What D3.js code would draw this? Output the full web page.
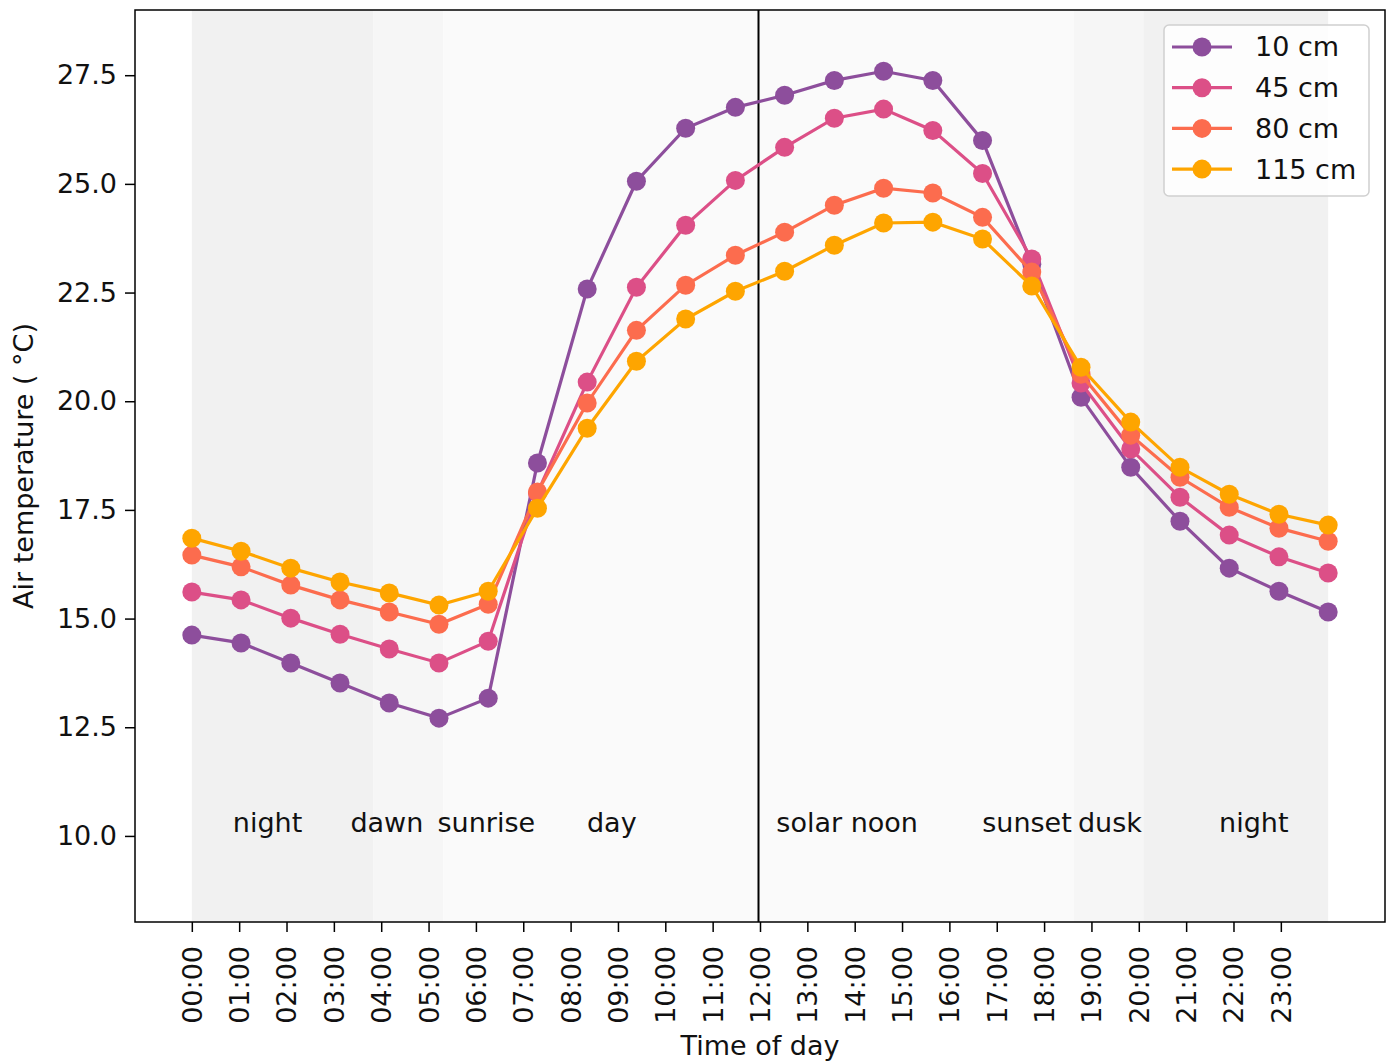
<!DOCTYPE html>
<html>
<head>
<meta charset="utf-8">
<script src="https://cdn.jsdelivr.net/npm/d3@7.9.0/dist/d3.min.js"></script>
<style>
  html, body { margin: 0; padding: 0; background: #fff; }
  svg { display: block; font-family: "DejaVu Sans", sans-serif; }
</style>
</head>
<body>
<svg id="chart" width="1391" height="1061"></svg>
<script>
// sample times (hours) — 24 samples spread over the day
const hours = [0, 1.04, 2.09, 3.13, 4.17, 5.22, 6.26, 7.30, 8.35, 9.39, 10.43, 11.48,
               12.52, 13.57, 14.61, 15.65, 16.70, 17.74, 18.78, 19.83, 20.87, 21.91, 22.96, 24.0];

const seriesNames = ['10 cm', '45 cm', '80 cm', '115 cm'];
const seriesColors = ['#8d4e9c', '#dc4f87', '#fc6c4e', '#fea500'];

const temp10  = [14.62, 14.44, 13.98, 13.52, 13.06, 12.71, 13.17, 18.58, 22.58, 25.06, 26.28, 26.76,
                 27.04, 27.38, 27.59, 27.38, 26.00, 23.15, 20.09, 18.48, 17.24, 16.16, 15.63, 15.15];
const temp45  = [15.61, 15.43, 15.01, 14.64, 14.30, 13.98, 14.48, 17.89, 20.44, 22.62, 24.05, 25.08,
                 25.84, 26.51, 26.72, 26.23, 25.24, 23.27, 20.42, 18.90, 17.79, 16.92, 16.42, 16.05];
const temp80  = [16.46, 16.19, 15.77, 15.43, 15.15, 14.87, 15.33, 17.91, 19.96, 21.63, 22.67, 23.36,
                 23.89, 24.51, 24.90, 24.79, 24.23, 22.97, 20.62, 19.22, 18.25, 17.56, 17.08, 16.78];
const temp115 = [16.85, 16.55, 16.16, 15.84, 15.59, 15.31, 15.63, 17.54, 19.38, 20.92, 21.89, 22.53,
                 22.99, 23.59, 24.10, 24.12, 23.73, 22.65, 20.78, 19.52, 18.48, 17.86, 17.40, 17.15];
const seriesValues = [temp10, temp45, temp80, temp115];

// background phases [start, end] in hours
const phaseStart = [0, 3.83, 5.31, 18.63, 20.10];
const phaseEnd   = [3.83, 5.31, 18.63, 20.10, 24.0];
const phaseFill  = ['#f1f1f1', '#f6f6f6', '#fafafa', '#f6f6f6', '#f1f1f1'];

// phase labels
const labelText = ['night', 'dawn', 'sunrise', 'day', 'solar noon', 'sunset', 'dusk', 'night'];
const labelHour = [1.60, 4.12, 6.22, 8.87, 13.84, 17.64, 19.39, 22.43];

const xTicks = d3.range(0, 24);
const yTicks = [10.0, 12.5, 15.0, 17.5, 20.0, 22.5, 25.0, 27.5];

const plotL = 135, plotR = 1385, plotT = 10, plotB = 922;
const fs = 27;

const svg = d3.select('#chart');
const x = d3.scaleLinear().domain([-1.2, 25.2]).range([plotL, plotR]);
const y = d3.scaleLinear().domain([8.02, 29.0]).range([plotB, plotT]);

// shaded phases
svg.append('g').selectAll('rect')
  .data(phaseStart)
  .enter().append('rect')
    .attr('x', (d, i) => x(d))
    .attr('width', (d, i) => x(phaseEnd[i]) - x(d))
    .attr('y', plotT)
    .attr('height', plotB - plotT)
    .attr('fill', (d, i) => phaseFill[i]);

// phase labels
svg.append('g').selectAll('text')
  .data(labelText)
  .enter().append('text')
    .attr('x', (d, i) => x(labelHour[i]))
    .attr('y', y(10.08))
    .attr('text-anchor', 'middle')
    .attr('font-size', fs)
    .attr('fill', '#111')
    .text(d => d);

// solar noon line
svg.append('line')
  .attr('x1', x(12) - 1.5).attr('x2', x(12) - 1.5)
  .attr('y1', plotT).attr('y2', plotB)
  .attr('stroke', '#000').attr('stroke-width', 2);

// series
const line = d3.line().x((d, i) => x(hours[i])).y(d => y(d));
seriesValues.forEach((vals, s) => {
  const g = svg.append('g');
  g.append('path')
    .datum(vals)
    .attr('d', line)
    .attr('fill', 'none')
    .attr('stroke', seriesColors[s])
    .attr('stroke-width', 3.2);
  g.selectAll('circle')
    .data(vals)
    .enter().append('circle')
      .attr('cx', (d, i) => x(hours[i]))
      .attr('cy', d => y(d))
      .attr('r', 9.5)
      .attr('fill', seriesColors[s]);
});

// axes
const xAxis = d3.axisBottom(x).tickValues(xTicks)
  .tickFormat(d => String(d).padStart(2, '0') + ':00')
  .tickSize(10).tickSizeOuter(0);
const gx = svg.append('g').attr('transform', `translate(0,${plotB})`).call(xAxis);
gx.select('.domain').remove();
gx.selectAll('line').attr('stroke', '#000').attr('stroke-width', 1.5);
gx.selectAll('text')
  .attr('font-size', fs)
  .attr('font-family', '"DejaVu Sans", sans-serif')
  .attr('fill', '#111')
  .attr('transform', 'rotate(-90)')
  .attr('text-anchor', 'end')
  .attr('dy', '0.35em')
  .attr('x', -24)
  .attr('y', 0);

const yAxis = d3.axisLeft(y).tickValues(yTicks)
  .tickFormat(d3.format('.1f'))
  .tickSize(10).tickSizeOuter(0).tickPadding(8);
const gy = svg.append('g').attr('transform', `translate(${plotL},0)`).call(yAxis);
gy.select('.domain').remove();
gy.selectAll('line').attr('stroke', '#000').attr('stroke-width', 1.5);
gy.selectAll('text')
  .attr('font-size', fs)
  .attr('font-family', '"DejaVu Sans", sans-serif')
  .attr('fill', '#111');

// frame
svg.append('rect')
  .attr('x', plotL).attr('y', plotT)
  .attr('width', plotR - plotL).attr('height', plotB - plotT)
  .attr('fill', 'none').attr('stroke', '#000').attr('stroke-width', 1.5);

// axis titles
svg.append('text')
  .attr('x', (plotL + plotR) / 2)
  .attr('y', 1055)
  .attr('text-anchor', 'middle')
  .attr('font-size', fs)
  .attr('fill', '#111')
  .text('Time of day');

svg.append('text')
  .attr('transform', `translate(33,${(plotT + plotB) / 2}) rotate(-90)`)
  .attr('text-anchor', 'middle')
  .attr('font-size', fs)
  .attr('fill', '#111')
  .text('Air temperature ( °C)');

// legend
const lg = svg.append('g').attr('transform', 'translate(1164,25)');
lg.append('rect')
  .attr('width', 205).attr('height', 171)
  .attr('rx', 5)
  .attr('fill', '#fff').attr('fill-opacity', 0.85)
  .attr('stroke', '#d0d0d0').attr('stroke-width', 1.5);
const items = lg.selectAll('g.item')
  .data(seriesNames)
  .enter().append('g')
    .attr('class', 'item')
    .attr('transform', (d, i) => `translate(0,${22 + i * 40.7})`);
items.append('line')
  .attr('x1', 8).attr('x2', 68)
  .attr('stroke', (d, i) => seriesColors[i]).attr('stroke-width', 3.2);
items.append('circle')
  .attr('cx', 38).attr('r', 9.5)
  .attr('fill', (d, i) => seriesColors[i]);
items.append('text')
  .attr('x', 91).attr('dy', '0.35em')
  .attr('font-size', fs)
  .attr('fill', '#111')
  .text(d => d);
</script>
</body>
</html>
